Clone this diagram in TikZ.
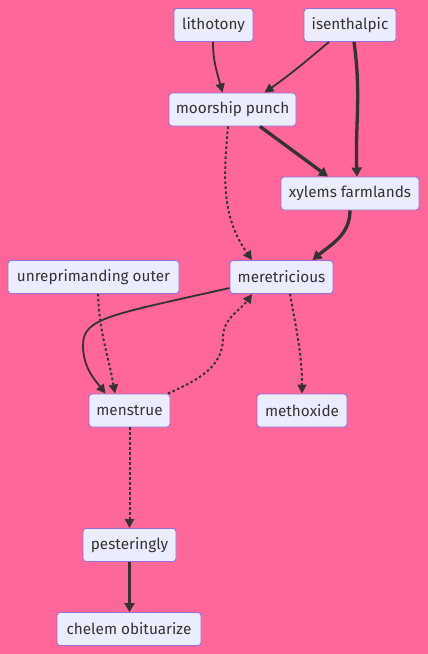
\documentclass[tikz,border=0pt]{standalone}
\usepackage{fontspec}
\setmainfont{Fira Sans}
\usetikzlibrary{arrows.meta}
\definecolor{bgpink}{RGB}{255,102,153}
\definecolor{nodefill}{HTML}{ECECFF}
\definecolor{nodeline}{HTML}{9370DB}
\definecolor{ink}{HTML}{333333}
\tikzset{
  box/.style={draw=nodeline, fill=nodefill, line width=0.9pt, rounded corners=3pt,
    minimum height=33pt, inner sep=0pt, text=ink, font=\fontsize{15.3}{18}\selectfont},
  link/.style={draw=ink, line width=1.8pt, -{Triangle[length=9pt,width=9pt]}},
  thicklink/.style={draw=ink, line width=3.3pt, -{Triangle[length=9pt,width=10pt]}},
  dotlink/.style={draw=ink, line width=2pt, dash pattern=on 2.5pt off 2.5pt, -{Triangle[length=9pt,width=9pt]}},
}
\begin{document}
\begin{tikzpicture}[x=1pt,y=-1pt]
\fill[bgpink] (0,0) rectangle (428,654);
\useasboundingbox (0,0) rectangle (428,654);
\node[box, minimum width=79pt] (lith) at (213.5,25) {lithotony};
\node[box, minimum width=92pt] (isen) at (350,25) {isenthalpic};
\node[box, minimum width=127pt] (moor) at (232.5,109.5) {moorship punch};
\node[box, minimum width=138pt] (xyl) at (350,193.5) {xylems farmlands};
\node[box, minimum width=171pt] (unrep) at (93.5,277) {unreprimanding outer};
\node[box, minimum width=103pt] (mer) at (281.5,277) {meretricious};
\node[box, minimum width=81pt] (men) at (129.5,410.5) {menstrue};
\node[box, minimum width=90pt] (meth) at (302,410.5) {methoxide};
\node[box, minimum width=93pt] (pest) at (129.5,545) {pesteringly};
\node[box, minimum width=144pt] (chel) at (129,629) {chelem obituarize};
\coordinate (bendA) at (83,345);
\coordinate (bendB) at (223,338);
\draw[link] ([xshift=-0.5pt]lith.south) to[out=-90,in=105] ([xshift=-10pt]moor.north);
\draw[link] ([xshift=-21pt]isen.south) to[out=-140,in=35] ([xshift=32pt]moor.north);
\draw[thicklink] ([xshift=4pt]isen.south) to[out=-82,in=92] ([xshift=7pt]xyl.north);
\draw[thicklink] ([xshift=27.5pt]moor.south) -- ([xshift=-22pt]xyl.north);
\draw[dotlink] ([xshift=-4.5pt]moor.south) to[out=-95,in=125] ([xshift=-29.5pt]mer.north);
\draw[thicklink] (xyl.south) to[out=-90,in=40] ([xshift=31pt]mer.north);
\draw[link] ([yshift=-11pt]mer.west) .. controls (110,315) and (83,318) .. (bendA)
  .. controls (83,368) and (95,380) .. ([xshift=-24pt]men.north);
\draw[dotlink] ([xshift=4.5pt]unrep.south) to[out=-88,in=100] ([xshift=-14.5pt]men.north);
\draw[dotlink] ([xshift=38.5pt]men.north) to[out=25,in=-90] (bendB) to[out=90,in=-125] ([xshift=-29.5pt]mer.south);
\draw[dotlink] ([xshift=8.5pt]mer.south) to[out=-80,in=90] (meth.north);
\draw[dotlink] (men.south) -- (pest.north);
\draw[thicklink] (pest.south) -- ([xshift=0.5pt]chel.north);
\end{tikzpicture}
\end{document}
